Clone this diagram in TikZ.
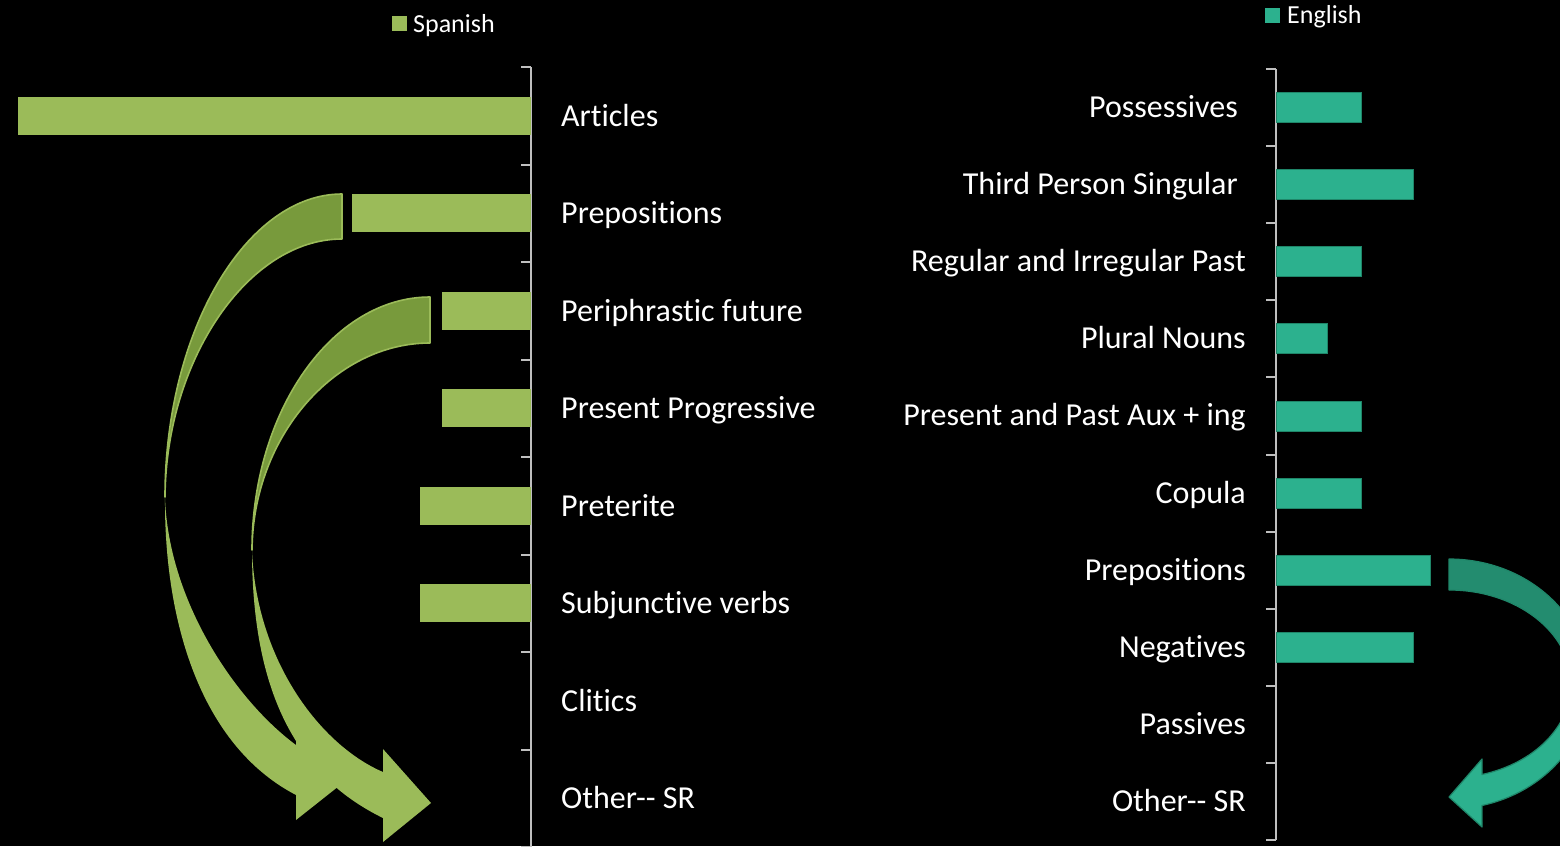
\documentclass[tikz,border=0pt]{standalone}
\usepackage{fontspec}
\setmainfont{Carlito}[Ligatures={NoCommon,NoContextual}]
\definecolor{sgreen}{HTML}{9BBB59}
\definecolor{gdark}{HTML}{789A3C}
\definecolor{eteal}{HTML}{2CB18E}
\definecolor{tealdark}{HTML}{238C6F}
\definecolor{tealedge}{HTML}{1F8669}
\definecolor{axisgray}{HTML}{BFBFBF}
\begin{document}
\begin{tikzpicture}[x=1pt,y=-1pt,
  lbl/.style={text=white,font=\fontsize{32}{36}\selectfont,inner sep=0pt},
  leg/.style={text=white,font=\fontsize{26}{30}\selectfont,inner sep=0pt},
  axisline/.style={draw=axisgray,line width=2pt},
  gbar/.style={fill=sgreen},
  tbar/.style={fill=eteal,draw=tealedge,line width=0.8pt},
  backgreen/.style={fill=gdark,draw=sgreen,line width=1.6pt,line join=round},
  frontgreen/.style={fill=sgreen},
  backteal/.style={fill=tealdark,draw=tealedge,line width=1.2pt,line join=round},
  frontteal/.style={fill=eteal,draw=tealedge,line width=1.2pt,line join=round}]
\useasboundingbox (0,0) rectangle (1560,846);
\fill[black] (0,0) rectangle (1560,846);
\clip (0,0) rectangle (1560,846);

% ---------- legends ----------
\fill[sgreen] (392,16) rectangle (407,31);
\node[leg,anchor=base west] (legS) at (413,32) {Spanish};
\fill[eteal] (1265,8) rectangle (1280,23);
\node[leg,anchor=base west] (legE) at (1287,23.5) {English};

% ---------- left axis ----------
\draw[axisline] (531,67) -- (531,848);
\foreach \i in {0,...,8}{
  \draw[axisline] (521,67+97.5*\i) -- (531,67+97.5*\i);
}
% Spanish bars
\fill[gbar] (18,96.75) rectangle (531,134.75);
\fill[gbar] (352,194.25) rectangle (531,232.25);
\fill[gbar] (442,291.75) rectangle (531,329.75);
\fill[gbar] (442,389.25) rectangle (531,427.25);
\fill[gbar] (420,486.75) rectangle (531,524.75);
\fill[gbar] (420,584.25) rectangle (531,622.25);

% left labels
\node[lbl,anchor=base west] (sArt)  at (561,126) {Articles};
\node[lbl,anchor=base west] (sPrep) at (561,223.5) {Prepositions};
\node[lbl,anchor=base west] (sPer)  at (561,321) {Periphrastic future};
\node[lbl,anchor=base west] (sPP)   at (561,418.5) {Present Progressive};
\node[lbl,anchor=base west] (sPret) at (561,516) {Preterite};
\node[lbl,anchor=base west] (sSub)  at (561,613.5) {Subjunctive verbs};
\node[lbl,anchor=base west] (sCli)  at (561,711) {Clitics};
\node[lbl,anchor=base west] (sOth)  at (561,808.5) {Other{-}{-} SR};

% ---------- right axis ----------
\draw[axisline] (1276,69) -- (1276,840);
\foreach \i in {0,...,10}{
  \draw[axisline] (1266,69+77.1*\i) -- (1276,69+77.1*\i);
}
% English bars
\filldraw[tbar] (1276,92.5) rectangle (1361,122.5);
\filldraw[tbar] (1276,169.6) rectangle (1413,199.6);
\filldraw[tbar] (1276,246.7) rectangle (1361,276.7);
\filldraw[tbar] (1276,323.8) rectangle (1327,353.8);
\filldraw[tbar] (1276,400.9) rectangle (1361,430.9);
\filldraw[tbar] (1276,478) rectangle (1361,508);
\filldraw[tbar] (1276,555.1) rectangle (1430,585.1);
\filldraw[tbar] (1276,632.2) rectangle (1413,662.2);

% right labels
\node[lbl,anchor=base east] (ePos) at (1238,117) {Possessives};
\node[lbl,anchor=base east] (eThi) at (1238,194.6) {Third Person Singular};
\node[lbl,anchor=base east] (eReg) at (1246,271.7) {Regular and Irregular Past};
\node[lbl,anchor=base east] (ePlu) at (1246,348.8) {Plural Nouns};
\node[lbl,anchor=base east] (eAux) at (1246,425.9) {Present and Past Aux + ing};
\node[lbl,anchor=base east] (eCop) at (1246,503) {Copula};
\node[lbl,anchor=base east] (ePre) at (1246,580.1) {Prepositions};
\node[lbl,anchor=base east] (eNeg) at (1246,657.2) {Negatives};
\node[lbl,anchor=base east] (ePas) at (1246,734.3) {Passives};
\node[lbl,anchor=base east] (eOth) at (1246,811.4) {Other{-}{-} SR};

% ---------- green curved arrows ----------
% outer arrow (from Prepositions)
\filldraw[backgreen] (342,194) .. controls (247,194) and (165,330) .. (165,497)
   .. controls (166,360) and (248,239) .. (342,239) -- cycle;
\fill[frontgreen] (165,497) .. controls (164,620) and (200,745) .. (296,795)
   -- (296,820) -- (344,782) -- (296,728) -- (296,745)
   .. controls (235,700) and (168,600) .. (165,497) -- cycle;
% inner arrow (from Periphrastic future)
\filldraw[backgreen] (430,297) .. controls (333,297) and (252,410) .. (252,550)
   .. controls (253,436) and (335,343) .. (430,343) -- cycle;
\fill[frontgreen] (252,550) .. controls (252,690) and (295,775) .. (383,818)
   -- (383,842) -- (431,803) -- (383,749) -- (383,772)
   .. controls (320,745) and (256,660) .. (252,550) -- cycle;

% ---------- teal curved arrow ----------
\filldraw[backteal] (1449,559) arc[start angle=90,end angle=0,x radius=140pt,y radius=125pt]
   -- (1571,684) arc[start angle=0,end angle=90,x radius=122pt,y radius=94pt] -- cycle;
\filldraw[frontteal] (1589,684) arc[start angle=0,end angle=-76.4,x radius=140pt,y radius=125pt]
   -- (1482,827) -- (1449,797) -- (1482,759) -- (1482,774.5)
   arc[start angle=-74.3,end angle=0,x radius=122pt,y radius=94pt] -- cycle;
\end{tikzpicture}
\end{document}
